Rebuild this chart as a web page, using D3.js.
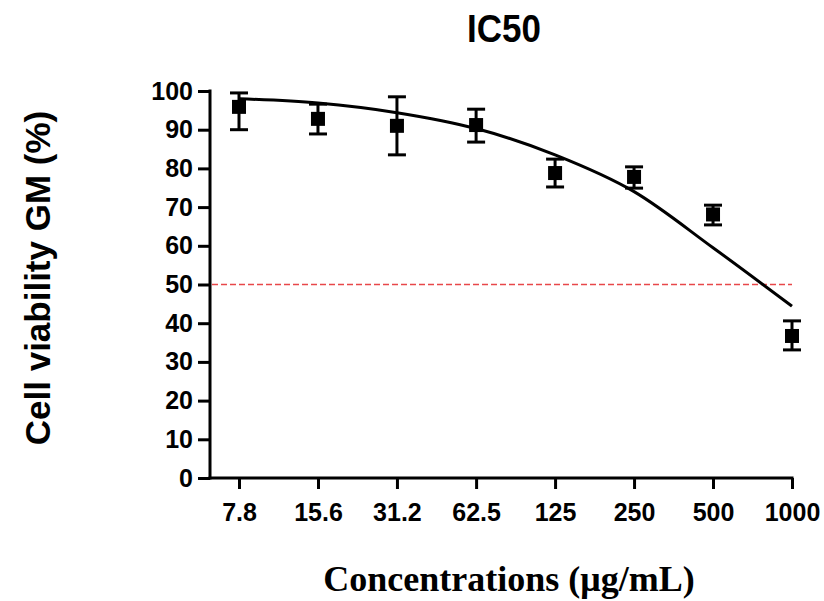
<!DOCTYPE html>
<html>
<head>
<meta charset="utf-8">
<script src="https://cdn.jsdelivr.net/npm/d3@7"></script>
<style>
  body { margin: 0; background: #fff; }
  svg { display: block; }
</style>
</head>
<body>
<svg id="chart" width="824" height="601"></svg>
<script>
// concentrations (µg/mL) and measured viability
const concentrations = [7.8, 15.6, 31.2, 62.5, 125, 250, 500, 1000];
const tickLabels = ['7.8', '15.6', '31.2', '62.5', '125', '250', '500', '1000'];
const viability = [95.9, 92.8, 91.0, 91.2, 78.8, 77.8, 68.1, 36.7];
const errUpper = [99.5, 96.6, 98.5, 95.3, 82.4, 80.4, 70.5, 40.6];
const errLower = [90.0, 88.9, 83.5, 86.8, 75.2, 74.9, 65.4, 33.1];

// fitted curve
const fitConc = [7.8, 15.6, 31.2, 62.5, 125, 250, 500, 1000];
const fitViability = [98.0, 96.9, 94.4, 90.3, 83.5, 74.0, 59.5, 44.4];

const yTicks = [0, 10, 20, 30, 40, 50, 60, 70, 80, 90, 100];

const axisLeftX = 210;
const svg = d3.select('#chart');

const x = d3.scaleLog()
  .base(2)
  .domain([7.8, 1000])
  .range([239, 792]);

const y = d3.scaleLinear()
  .domain([0, 100])
  .range([478, 91]);

// y axis
const yAxis = svg.append('g')
  .attr('transform', `translate(${axisLeftX},0)`)
  .call(d3.axisLeft(y).tickValues(yTicks).tickSize(12).tickPadding(5).tickSizeOuter(0));

yAxis.select('.domain').remove();
yAxis.append('line')
  .attr('x1', 0).attr('x2', 0)
  .attr('y1', y(100) - 1.5).attr('y2', y(0) + 1.5)
  .attr('stroke', '#000').attr('stroke-width', 3);
yAxis.selectAll('.tick line').attr('stroke-width', 3);
yAxis.selectAll('.tick text')
  .attr('font-family', 'Liberation Sans, Arial, sans-serif')
  .attr('font-weight', 'bold')
  .attr('font-size', 25)
  .attr('fill', '#000');

// x axis
const xAxis = svg.append('g')
  .attr('transform', `translate(0,${y(0)})`)
  .call(d3.axisBottom(x).tickValues(concentrations)
    .tickFormat((d, i) => tickLabels[i]).tickSize(11).tickPadding(14));

xAxis.select('.domain').remove();
xAxis.append('line')
  .attr('x1', axisLeftX - 1.5).attr('x2', x(1000) + 1.5)
  .attr('y1', 0).attr('y2', 0)
  .attr('stroke', '#000').attr('stroke-width', 3);
xAxis.selectAll('.tick line').attr('stroke-width', 3);
xAxis.selectAll('.tick text')
  .attr('font-family', 'Liberation Sans, Arial, sans-serif')
  .attr('font-weight', 'bold')
  .attr('font-size', 25)
  .attr('fill', '#000');

// 50% reference line
svg.append('line')
  .attr('x1', axisLeftX + 2).attr('x2', x(1000))
  .attr('y1', y(50)).attr('y2', y(50))
  .attr('stroke', '#e8474a')
  .attr('stroke-width', 1.5)
  .attr('stroke-dasharray', '6,3');

// fitted curve
const fitData = fitConc.map((c, i) => ({ c, v: fitViability[i] }));
svg.append('path')
  .datum(fitData)
  .attr('fill', 'none')
  .attr('stroke', '#000')
  .attr('stroke-width', 3)
  .attr('d', d3.line()
    .x((d) => x(d.c))
    .y((d) => y(d.v))
    .curve(d3.curveMonotoneX));

// error bars and markers
const points = concentrations.map((c, i) => ({
  c, v: viability[i], hi: errUpper[i], lo: errLower[i]
}));

const cap = 9;
const sq = 14;
const pg = svg.append('g').attr('stroke', '#000').attr('stroke-width', 3);

pg.selectAll('.err')
  .data(points)
  .enter()
  .append('line')
    .attr('x1', (d) => x(d.c)).attr('x2', (d) => x(d.c))
    .attr('y1', (d) => y(d.hi)).attr('y2', (d) => y(d.lo));

pg.selectAll('.capHi')
  .data(points)
  .enter()
  .append('line')
    .attr('x1', (d) => x(d.c) - cap).attr('x2', (d) => x(d.c) + cap)
    .attr('y1', (d) => y(d.hi)).attr('y2', (d) => y(d.hi));

pg.selectAll('.capLo')
  .data(points)
  .enter()
  .append('line')
    .attr('x1', (d) => x(d.c) - cap).attr('x2', (d) => x(d.c) + cap)
    .attr('y1', (d) => y(d.lo)).attr('y2', (d) => y(d.lo));

svg.append('g')
  .selectAll('rect')
  .data(points)
  .enter()
  .append('rect')
    .attr('x', (d) => x(d.c) - sq / 2)
    .attr('y', (d) => y(d.v) - sq / 2)
    .attr('width', sq)
    .attr('height', sq)
    .attr('fill', '#000');

// titles
svg.append('text')
  .attr('transform', 'translate(504,42) scale(1,1.12)')
  .attr('text-anchor', 'middle')
  .attr('font-family', 'Liberation Sans, Arial, sans-serif')
  .attr('font-weight', 'bold')
  .attr('font-size', 35)
  .text('IC50');

svg.append('text')
  .attr('transform', 'translate(50,278) rotate(-90)')
  .attr('text-anchor', 'middle')
  .attr('font-family', 'Liberation Sans, Arial, sans-serif')
  .attr('font-weight', 'bold')
  .attr('font-size', 35)
  .text('Cell viability GM (%)');

svg.append('text')
  .attr('x', 509).attr('y', 591)
  .attr('text-anchor', 'middle')
  .attr('font-family', 'Liberation Serif, Times New Roman, serif')
  .attr('font-weight', 'bold')
  .attr('font-size', 36)
  .text('Concentrations (\u03bcg/mL)');
</script>
</body>
</html>
